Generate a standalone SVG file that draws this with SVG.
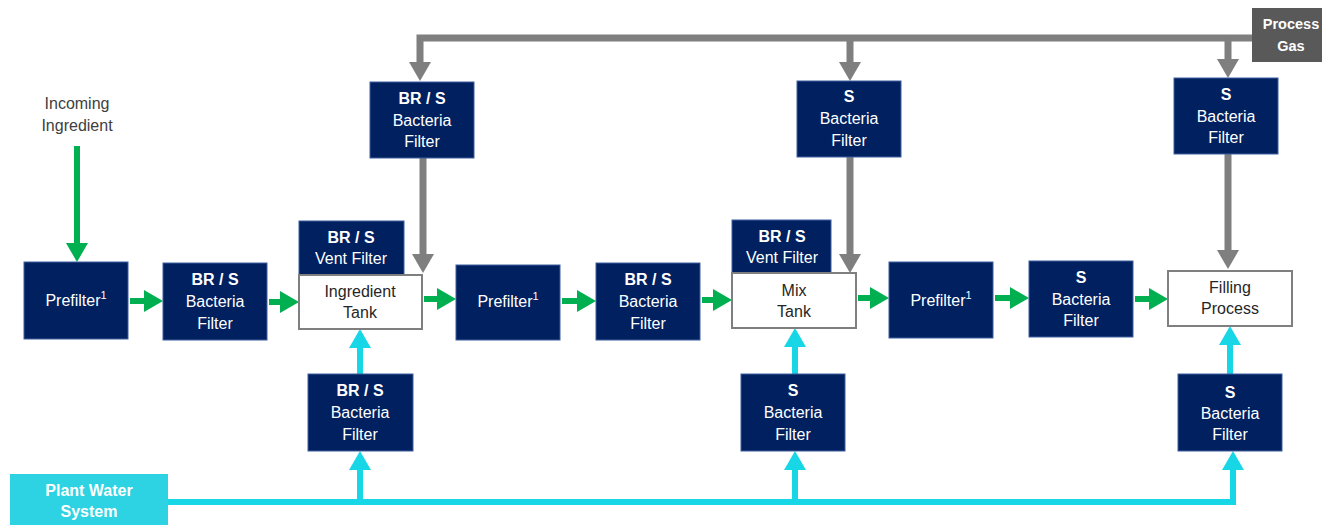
<svg xmlns="http://www.w3.org/2000/svg" width="1322" height="525" viewBox="0 0 1322 525">
<defs>
<style>
.nb{fill:#002060;stroke:#3F5F9F;stroke-width:1}
.tk{fill:#ffffff;stroke:#7F7F7F;stroke-width:2}
.pg{fill:#595959}
.pw{fill:#2DD3E2}
text{font-family:"Liberation Sans",Arial,sans-serif;font-size:16px;text-anchor:middle;dominant-baseline:central}
.w{fill:#ffffff}
.b{font-weight:bold}
.d{fill:#262626}
.g{fill:#404040}
.sm{font-size:14.5px}
.sup{font-size:11px}
.gr{stroke:#00B050;stroke-width:6;fill:none}
.gy{stroke:#7F7F7F;stroke-width:7;fill:none}
.cy{stroke:#17D6E6;stroke-width:6;fill:none}
</style>
<marker id="ag" markerUnits="userSpaceOnUse" markerWidth="19" markerHeight="22" refX="0" refY="11" orient="auto"><path d="M0,0 L19,11 L0,22 z" fill="#00B050"/></marker>
<marker id="ay" markerUnits="userSpaceOnUse" markerWidth="19" markerHeight="22" refX="0" refY="11" orient="auto"><path d="M0,0 L19,11 L0,22 z" fill="#7F7F7F"/></marker>
<marker id="ac" markerUnits="userSpaceOnUse" markerWidth="19" markerHeight="22" refX="0" refY="11" orient="auto"><path d="M0,0 L19,11 L0,22 z" fill="#17D6E6"/></marker>
</defs>

<g id="connectors">
<path class="gr" d="M77,146 V243" marker-end="url(#ag)"/>
<path class="gr" d="M130,301 H144" marker-end="url(#ag)"/>
<path class="gr" d="M269,302 H280" marker-end="url(#ag)"/>
<path class="gr" d="M424,299 H437" marker-end="url(#ag)"/>
<path class="gr" d="M562,301 H577" marker-end="url(#ag)"/>
<path class="gr" d="M702,300 H713" marker-end="url(#ag)"/>
<path class="gr" d="M858,298 H870" marker-end="url(#ag)"/>
<path class="gr" d="M995,298 H1010" marker-end="url(#ag)"/>
<path class="gr" d="M1135,299 H1149" marker-end="url(#ag)"/>
<path class="gy" d="M1252,38 H420 V62" marker-end="url(#ay)"/>
<path class="gy" d="M850,38 V62" marker-end="url(#ay)"/>
<path class="gy" d="M1228,38 V59" marker-end="url(#ay)"/>
<path class="gy" d="M423,158 V254" marker-end="url(#ay)"/>
<path class="gy" d="M850,157 V254" marker-end="url(#ay)"/>
<path class="gy" d="M1228,154 V250" marker-end="url(#ay)"/>
<path class="cy" d="M168,502 H1233 V470" marker-end="url(#ac)"/>
<path class="cy" d="M360,502 V470" marker-end="url(#ac)"/>
<path class="cy" d="M795,502 V470" marker-end="url(#ac)"/>
<path class="cy" d="M360,374 V348" marker-end="url(#ac)"/>
<path class="cy" d="M795,374 V347" marker-end="url(#ac)"/>
<path class="cy" d="M1230,374 V345" marker-end="url(#ac)"/>
</g>

<g id="incoming">
<text class="g" x="77" y="103">Incoming</text>
<text class="g" x="77" y="125">Ingredient</text>
</g>

<g id="prefilter1">
<rect class="nb" x="24" y="262" width="104" height="77"/>
<text class="w" x="76" y="300">Prefilter<tspan class="sup" dy="-5">1</tspan></text>
</g>

<g id="bacteria1">
<rect class="nb" x="163" y="263" width="104" height="77"/>
<text class="w b" x="215" y="279">BR / S</text>
<text class="w" x="215" y="301">Bacteria</text>
<text class="w" x="215" y="323">Filter</text>
</g>

<g id="vent1">
<rect class="nb" x="299" y="221" width="105" height="54"/>
<text class="w b" x="351" y="237">BR / S</text>
<text class="w" x="351" y="258">Vent Filter</text>
</g>

<g id="ingredientTank">
<rect class="tk" x="299" y="275" width="123" height="54"/>
<text class="d" x="360" y="291">Ingredient</text>
<text class="d" x="360" y="312">Tank</text>
</g>

<g id="gasFilter1">
<rect class="nb" x="370" y="82" width="104" height="76"/>
<text class="w b" x="422" y="98">BR / S</text>
<text class="w" x="422" y="120">Bacteria</text>
<text class="w" x="422" y="141">Filter</text>
</g>

<g id="prefilter2">
<rect class="nb" x="456" y="265" width="104" height="75"/>
<text class="w" x="508" y="301">Prefilter<tspan class="sup" dy="-5">1</tspan></text>
</g>

<g id="bacteria2">
<rect class="nb" x="596" y="263" width="104" height="77"/>
<text class="w b" x="648" y="279">BR / S</text>
<text class="w" x="648" y="301">Bacteria</text>
<text class="w" x="648" y="323">Filter</text>
</g>

<g id="vent2">
<rect class="nb" x="732" y="220" width="99" height="53"/>
<text class="w b" x="782" y="236">BR / S</text>
<text class="w" x="782" y="257">Vent Filter</text>
</g>

<g id="mixTank">
<rect class="tk" x="732" y="273" width="124" height="55"/>
<text class="d" x="794" y="290">Mix</text>
<text class="d" x="794" y="311">Tank</text>
</g>

<g id="gasFilter2">
<rect class="nb" x="797" y="81" width="104" height="76"/>
<text class="w b" x="849" y="96">S</text>
<text class="w" x="849" y="118">Bacteria</text>
<text class="w" x="849" y="140">Filter</text>
</g>

<g id="prefilter3">
<rect class="nb" x="889" y="262" width="104" height="76"/>
<text class="w" x="941" y="300">Prefilter<tspan class="sup" dy="-5">1</tspan></text>
</g>

<g id="bacteria3">
<rect class="nb" x="1029" y="261" width="104" height="76"/>
<text class="w b" x="1081" y="277">S</text>
<text class="w" x="1081" y="299">Bacteria</text>
<text class="w" x="1081" y="320">Filter</text>
</g>

<g id="gasFilter3">
<rect class="nb" x="1174" y="78" width="104" height="76"/>
<text class="w b" x="1226" y="94">S</text>
<text class="w" x="1226" y="116">Bacteria</text>
<text class="w" x="1226" y="137">Filter</text>
</g>

<g id="filling">
<rect class="tk" x="1168" y="271" width="124" height="55"/>
<text class="d" x="1230" y="287">Filling</text>
<text class="d" x="1230" y="308">Process</text>
</g>

<g id="processGas">
<rect class="pg" x="1252" y="8" width="72" height="54"/>
<text class="w b sm" x="1291" y="24">Process</text>
<text class="w b sm" x="1291" y="46">Gas</text>
</g>

<g id="waterFilter1">
<rect class="nb" x="308" y="374" width="105" height="77"/>
<text class="w b" x="360" y="390">BR / S</text>
<text class="w" x="360" y="412">Bacteria</text>
<text class="w" x="360" y="434">Filter</text>
</g>

<g id="waterFilter2">
<rect class="nb" x="741" y="374" width="104" height="77"/>
<text class="w b" x="793" y="390">S</text>
<text class="w" x="793" y="412">Bacteria</text>
<text class="w" x="793" y="434">Filter</text>
</g>

<g id="waterFilter3">
<rect class="nb" x="1178" y="374" width="104" height="77"/>
<text class="w b" x="1230" y="392">S</text>
<text class="w" x="1230" y="413">Bacteria</text>
<text class="w" x="1230" y="434">Filter</text>
</g>

<g id="plantWater">
<rect class="pw" x="10" y="474" width="158" height="55"/>
<text class="w b" x="89" y="490">Plant Water</text>
<text class="w b" x="89" y="511">System</text>
</g>
</svg>
